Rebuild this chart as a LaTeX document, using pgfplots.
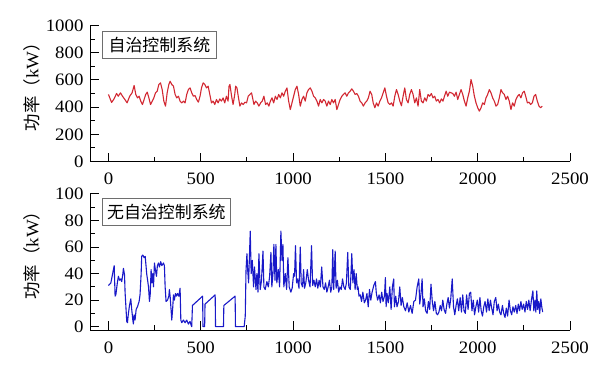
\documentclass[border=0pt]{standalone}
\usepackage{fontspec}
\setmainfont{Liberation Serif}
\newfontfamily\tickfont{Liberation Serif}[FakeStretch=1.08]
\newfontfamily\cjk{Noto Sans CJK SC}
\usepackage{pgfplots}
\pgfplotsset{compat=1.18}
\definecolor{lred}{RGB}{210,40,50}
\definecolor{lblue}{RGB}{25,25,200}
\definecolor{boxgray}{RGB}{110,110,110}
\pgfplotsset{
  mystyle/.style={
    scale only axis, width=480bp, height=136bp,
    xmin=-100, xmax=2500,
    axis x line*=bottom, axis y line*=left,
    axis line style={line width=1bp, black},
    every tick/.style={line width=1bp, black},
    tick align=inside,
    major tick length=8.5bp, minor tick length=4.8bp,
    xtick={0,500,...,2500},
    minor x tick num=1, minor y tick num=1,
    tick label style={font=\tickfont\fontsize{17.5}{17.5}\selectfont},
    /pgf/number format/assume math mode=true,
    /pgf/number format/1000 sep={},
    scaled ticks=false,
    xticklabel style={yshift=-8bp},
    yticklabel style={xshift=-3bp},
    ylabel style={at={(axis description cs:-0.1216,0.58)}, anchor=center, font=\cjk\fontsize{17.5}{17.5}\selectfont},
    ylabel={功率（{\tickfont kW}）},
    clip=false,
  }
}
\tikzset{mybox/.style={draw=boxgray, line width=0.8bp, anchor=north west, inner xsep=0pt, inner ysep=0pt, minimum height=27bp, font=\cjk\fontsize{17}{17}\selectfont}}
\begin{document}
\begin{tikzpicture}
\useasboundingbox (0,0) rectangle (600bp,371bp);
\begin{axis}[mystyle, at={(90bp,209.5bp)}, anchor=south west,
  ymin=0, ymax=1000, ytick={0,200,...,1000}]
\addplot[lred, line width=1.1bp, line join=round] coordinates {
(0,493) (17,434) (30,460) (44,500) (53,480) (65,505) (76,480) (89,456) (101,431) (115,480)
(128,505) (139,559) (148,493) (157,468) (166,480) (175,444) (184,419) (193,456) (202,493) (210,510)
(219,468) (228,419) (237,444) (246,468) (255,505) (264,517) (273,566) (282,578) (291,529) (300,444)
(309,407) (318,505) (327,566) (334,590) (343,566) (352,554) (361,493) (370,468) (379,480) (388,444)
(397,431) (406,444) (415,431) (424,493) (433,529) (442,541) (451,505) (460,480) (469,485) (478,456)
(487,436) (496,480) (504,541) (513,578) (522,566) (531,541) (540,554) (549,493) (558,431) (567,444)
(576,419) (585,456) (594,431) (603,460) (612,444) (621,468) (630,431) (639,480) (648,444) (653,554)
(658,566) (667,480) (675,419) (684,493) (689,554) (696,541) (703,480) (712,407) (721,431) (730,419)
(739,436) (748,431) (757,480) (766,493) (775,505) (781,466) (788,419) (797,444) (806,431) (815,407)
(824,431) (833,444) (842,480) (851,419) (860,431) (869,407) (877,444) (886,468) (895,431) (904,480)
(913,456) (922,493) (931,468) (940,505) (949,480) (958,517) (967,541) (976,444) (985,382) (994,431)
(1003,480) (1012,529) (1021,554) (1030,493) (1039,407) (1048,456) (1057,480) (1066,444) (1075,505) (1084,529)
(1093,541) (1102,517) (1111,480) (1120,468) (1129,444) (1138,407) (1147,456) (1156,431) (1165,456) (1174,444)
(1183,407) (1192,444) (1201,419) (1210,456) (1219,431) (1228,456) (1237,382) (1246,419) (1255,456) (1264,480)
(1273,493) (1282,505) (1291,480) (1300,505) (1309,517) (1318,534) (1327,517) (1336,493) (1345,500) (1354,480)
(1363,444) (1372,431) (1381,407) (1390,431) (1399,444) (1408,468) (1417,517) (1426,493) (1434,431) (1443,395)
(1452,431) (1461,407) (1470,444) (1479,468) (1488,505) (1497,541) (1506,480) (1515,431) (1524,419) (1533,431)
(1542,407) (1551,480) (1560,529) (1569,493) (1578,444) (1587,410) (1596,480) (1605,541) (1614,456) (1623,431)
(1632,493) (1641,529) (1650,493) (1659,431) (1668,468) (1677,407) (1686,529) (1695,444) (1704,431) (1713,468)
(1722,444) (1731,493) (1740,480) (1749,500) (1758,468) (1767,480) (1776,444) (1785,456) (1794,431) (1803,460)
(1812,444) (1820,480) (1829,517) (1838,480) (1847,510) (1856,505) (1865,500) (1874,480) (1883,510) (1892,456)
(1901,493) (1910,529) (1919,493) (1928,444) (1937,407) (1946,468) (1955,517) (1964,603) (1973,554) (1982,480)
(1991,431) (2000,395) (2009,370) (2018,395) (2027,431) (2036,419) (2045,468) (2054,493) (2063,529) (2072,505)
(2081,468) (2090,444) (2099,407) (2108,419) (2117,468) (2126,529) (2135,505) (2144,493) (2153,456) (2162,480)
(2171,444) (2180,382) (2189,431) (2198,407) (2207,456) (2216,480) (2225,493) (2234,468) (2243,505) (2252,517)
(2260,480) (2269,431) (2278,436) (2287,419) (2296,431) (2305,480) (2314,493) (2323,444) (2332,407) (2341,395)
(2350,407)
};
\node[mybox, minimum width=114bp] at (axis description cs:0.025,0.959) {自治控制系统};
\end{axis}
\begin{axis}[mystyle, at={(90bp,41bp)}, anchor=south west,
  ymin=-2.5, ymax=100, ytick={0,20,...,100}]
\addplot[lblue, line width=1.1bp, line join=round] coordinates {
(0,31) (13,33) (31,46) (36,23) (40,24) (49,34) (54,38) (60,35) (67,36) (72,34)
(78,40) (81,44) (87,39) (90,26) (99,4) (103,3) (108,10) (114,16) (121,21) (126,13)
(132,5) (135,2) (139,9) (144,5) (150,13) (157,15) (166,19) (171,24) (177,40) (180,53)
(186,54) (193,52) (199,53) (204,45) (207,40) (217,30) (222,19) (226,24) (231,43) (235,33)
(240,40) (244,30) (249,48) (254,43) (260,38) (265,46) (271,48) (276,45) (283,49) (289,46)
(298,48) (303,46) (307,30) (312,19) (320,20) (327,23) (330,28) (334,23) (338,15) (343,5)
(348,14) (352,24) (357,20) (363,25) (368,23) (374,25) (381,23) (388,29) (392,5) (397,3)
(406,5) (415,3) (424,5) (433,2) (442,4) (448,1) (451,0) (455,16) (510,23) (512,0)
(521,0) (523,17) (578,24) (580,0) (623,0) (625,16) (686,23) (688,0) (735,0) (741,8)
(745,42) (750,55) (754,43) (759,33) (768,72) (773,40) (779,50) (786,30) (791,45) (799,28)
(804,40) (810,26) (815,55) (822,28) (829,35) (837,57) (842,30) (849,28) (858,34) (866,30)
(873,38) (880,56) (885,30) (891,40) (896,62) (902,35) (907,62) (912,33) (920,43) (927,30)
(934,72) (940,50) (945,62) (950,30) (958,40) (965,28) (972,52) (979,30) (988,26) (995,29)
(1003,40) (1008,38) (1013,61) (1019,33) (1024,36) (1032,29) (1039,60) (1044,33) (1051,30) (1057,43)
(1062,29) (1069,33) (1077,43) (1084,35) (1092,30) (1100,61) (1106,31) (1113,35) (1120,30) (1127,36)
(1134,29) (1141,35) (1148,30) (1155,45) (1162,30) (1169,28) (1176,33) (1183,26) (1190,30) (1197,35)
(1204,26) (1210,30) (1215,58) (1220,28) (1228,57) (1233,29) (1240,35) (1247,26) (1254,30) (1261,28)
(1268,36) (1275,30) (1282,28) (1289,33) (1296,56) (1302,30) (1310,28) (1318,55) (1324,33) (1330,43)
(1336,28) (1342,40) (1348,28) (1352,30) (1357,23) (1364,24) (1371,19) (1378,26) (1386,18) (1393,20)
(1400,25) (1407,15) (1414,28) (1421,20) (1428,26) (1437,31) (1446,34) (1451,25) (1458,20) (1466,24)
(1473,18) (1480,26) (1487,19) (1495,23) (1500,37) (1504,15) (1509,25) (1516,18) (1524,30) (1531,13)
(1538,30) (1545,36) (1549,15) (1556,23) (1563,15) (1571,19) (1578,30) (1585,16) (1592,22) (1600,15)
(1609,12) (1618,18) (1627,11) (1636,16) (1645,10) (1654,19) (1663,20) (1672,30) (1681,36) (1686,17)
(1693,25) (1699,36) (1704,15) (1711,21) (1718,12) (1726,10) (1733,19) (1740,13) (1747,32) (1754,19)
(1761,12) (1768,19) (1776,10) (1783,9) (1790,11) (1797,16) (1804,12) (1811,20) (1818,13) (1826,10)
(1833,17) (1840,22) (1847,14) (1854,21) (1862,36) (1869,15) (1876,9) (1883,16) (1890,21) (1897,12)
(1905,22) (1912,11) (1919,24) (1926,12) (1933,10) (1940,24) (1948,13) (1955,25) (1962,26) (1969,12)
(1976,20) (1983,9) (1990,15) (1998,20) (2005,11) (2012,22) (2019,12) (2026,8) (2033,15) (2040,19)
(2048,11) (2055,21) (2062,12) (2069,20) (2076,14) (2083,9) (2090,19) (2098,22) (2105,12) (2112,17)
(2119,11) (2126,9) (2134,16) (2141,10) (2148,7) (2155,14) (2162,8) (2170,20) (2177,12) (2184,9)
(2191,15) (2198,11) (2206,16) (2213,10) (2220,17) (2227,12) (2234,19) (2241,13) (2249,17) (2256,11)
(2263,19) (2270,13) (2277,20) (2284,12) (2292,21) (2299,27) (2304,12) (2310,20) (2315,11) (2320,27)
(2325,13) (2331,19) (2336,10) (2342,21) (2347,15) (2352,11)
};
\node[mybox, minimum width=128bp] at (axis description cs:0.025,0.967) {无自治控制系统};
\end{axis}
\end{tikzpicture}
\end{document}
